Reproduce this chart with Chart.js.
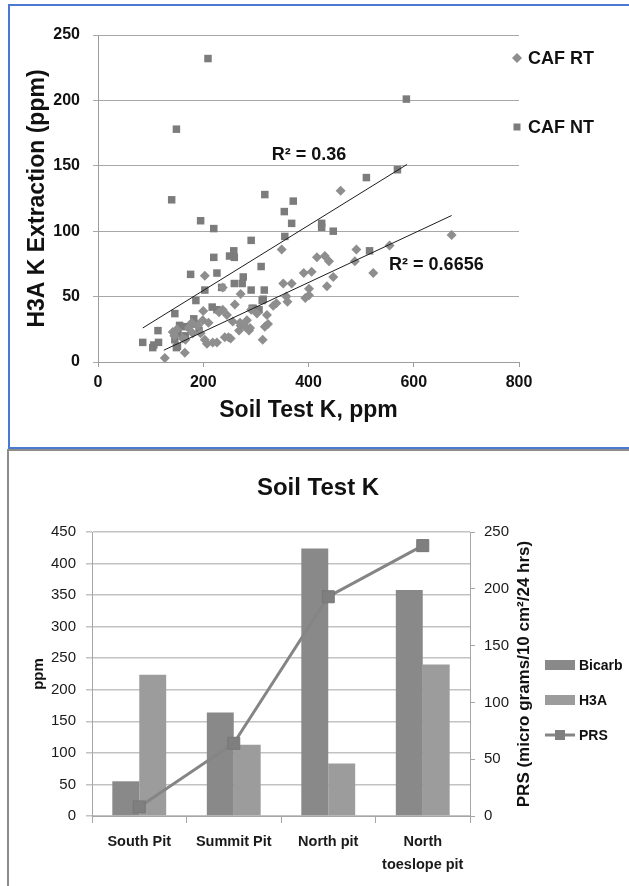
<!DOCTYPE html>
<html lang="en">
<head>
  <meta charset="UTF-8" />
  <title>H3A K Extraction / Soil Test K</title>
  <script src="https://cdn.jsdelivr.net/npm/chart.js"></script>
  <style>
    html, body { margin: 0; padding: 0; background: #fff; }
    body { width: 629px; height: 886px; position: relative; overflow: hidden; }
    canvas { position: absolute; left: 0; }
    #topChart { top: 0; }
    #bottomChart { top: 450px; }
    .edge { position: absolute; }
  </style>
</head>
<body>
  <canvas id="topChart" width="629" height="445"></canvas>
  <canvas id="bottomChart" width="629" height="436"></canvas>

  <!-- panel frames -->
  <div class="edge" style="left:8px;top:4px;width:621px;height:2px;background:#4a79d1"></div>
  <div class="edge" style="left:8px;top:4px;width:2px;height:445px;background:#4a79d1"></div>
  <div class="edge" style="left:8px;top:447px;width:621px;height:2px;background:#4a79d1"></div>
  <div class="edge" style="left:7px;top:449px;width:622px;height:2px;background:#8c8c8c"></div>
  <div class="edge" style="left:7px;top:449px;width:2px;height:437px;background:#8c8c8c"></div>

  <script>
    // ---- top chart data (Soil Test K ppm, H3A K ppm) ----
    const rtPoints = [
      [461,131],[349,86],[491,86],[672,97],[554,89],[416,80],[431,81],[439,77],[488,77],[523,68],
      [391,68],[406,69],[447,65],[352,60],[368,60],[435,58],[401,56],[401,51],[394,49],[358,50],
      [360,46],[339,45],[333,43],[321,36],[323,29],[317,27],[313,17],[271,52],[260,44],[237,57],
      [203,66],[200,39],[237,40],[245,36],[256,31],[271,28],[283,32],[287,24],[268,24],[241,19],
      [252,18],[207,14],[218,15],[199,32],[210,30],[178,30],[172,26],[161,18],[166,17],[142,23],
      [127,3],[165,7],[203,17],[226,15],[302,37],[291,40],[270,30],[289,26],[248,19],[190,28],
      [195,22],[180,22],[150,25],[145,20],[230,38],[280,27]
    ];
    const ntPoints = [
      [209,232],[586,201],[149,178],[140,124],[510,141],[569,147],[317,128],[371,123],[354,115],[195,108],
      [220,102],[368,106],[425,106],[425,103],[447,100],[291,93],[355,96],[258,85],[250,81],[220,80],
      [259,80],[516,85],[310,73],[176,67],[226,68],[276,65],[274,60],[259,60],[203,55],[235,57],
      [291,55],[316,55],[186,47],[314,48],[217,42],[146,37],[293,41],[306,40],[226,40],[114,24],
      [85,15],[104,11],[115,15],[149,11],[146,17],[166,20],[182,33],[186,29],[155,28],[192,24],
      [165,27],[152,22],[106,13],[151,12],[312,47],[295,41]
    ];
    const ntTrend = [[85,26],[587,151]];
    const rtTrend = [[125,9],[672,112]];
    const trendTexts = ['R² = 0.36', 'R² = 0.6656'];

    // ---- bottom chart data ----
    const sites = ['South Pit', 'Summit Pit', 'North pit', ['North', 'toeslope pit']];
    const bicarb = [55, 164, 424, 358];
    const h3a = [224, 113, 83, 240];
    const prs = [8, 64, 193, 238];

    const toXY = arr => arr.map(([x, y]) => ({ x, y }));
    const SANS = '"Liberation Sans", Arial, sans-serif';

    const topDecor = {
      id: 'topDecor',
      afterDatasetsDraw(chart, args, opts) {
        const { ctx, scales: { x, y } } = chart;
        ctx.save();
        ctx.fillStyle = '#111';
        ctx.font = 'bold 18px ' + SANS;
        ctx.textAlign = 'center';
        ctx.textBaseline = 'middle';
        trendTexts.forEach((t, i) => {
          const at = opts.labelAt[i];
          ctx.fillText(t, x.getPixelForValue(at[0]), y.getPixelForValue(at[1]));
        });
        // legend at the right
        ctx.textAlign = 'left';
        const items = chart.data.datasets.filter(d => d.inLegend);
        items.forEach((d, i) => {
          const cy = opts.legendTop + i * opts.legendGap;
          const cx = opts.legendX;
          ctx.fillStyle = d.backgroundColor;
          if (d.pointStyle === 'rectRot') {
            ctx.beginPath();
            ctx.moveTo(cx, cy - 5); ctx.lineTo(cx + 5, cy); ctx.lineTo(cx, cy + 5); ctx.lineTo(cx - 5, cy);
            ctx.closePath(); ctx.fill();
          } else {
            ctx.fillRect(cx - 3.5, cy - 3.5, 7, 7);
          }
          ctx.fillStyle = '#111';
          ctx.fillText(d.label, cx + 11, cy + 1);
        });
        ctx.restore();
      }
    };

    new Chart(document.getElementById('topChart'), {
      type: 'scatter',
      data: {
        datasets: [
          { label: 'NT trend', data: toXY(ntTrend), showLine: true, borderColor: '#1c1c1c', borderWidth: 1, pointRadius: 0, order: 0 },
          { label: 'RT trend', data: toXY(rtTrend), showLine: true, borderColor: '#1c1c1c', borderWidth: 1, pointRadius: 0, order: 0 },
          { label: 'CAF RT', data: toXY(rtPoints), pointStyle: 'rectRot', pointRadius: 5, backgroundColor: '#8e8e8e', borderWidth: 0, order: 1, inLegend: true },
          { label: 'CAF NT', data: toXY(ntPoints), pointStyle: 'rect', pointRadius: 5.3, backgroundColor: '#7c7c7c', borderWidth: 0, order: 1, inLegend: true }
        ]
      },
      options: {
        responsive: false,
        animation: false,
        layout: { padding: { left: 0, top: 35, right: 110, bottom: 13 } },
        plugins: {
          legend: { display: false },
          tooltip: { enabled: false },
          topDecor: { labelAt: [[401, 158], [643, 74]], legendX: 517, legendTop: 58, legendGap: 69 }
        },
        scales: {
          x: {
            type: 'linear', min: 0, max: 800,
            ticks: { stepSize: 200, color: '#111', padding: 6, font: { family: SANS, size: 16, weight: 'bold' } },
            grid: { drawOnChartArea: false, tickLength: 5, color: '#9c9c9c' },
            border: { color: '#9c9c9c' },
            title: { display: true, text: 'Soil Test K, ppm', color: '#111', padding: { top: 0, bottom: 8 },
                     font: { family: SANS, size: 23, weight: 'bold' } },
            afterFit: s => { s.height = 70; }
          },
          y: {
            min: 0, max: 250,
            ticks: { stepSize: 50, color: '#111', padding: 13, font: { family: SANS, size: 16, weight: 'bold' } },
            grid: { color: '#a8a8a8', tickLength: 5 },
            border: { color: '#9c9c9c' },
            title: { display: true, text: 'H3A K Extraction (ppm)', color: '#111', padding: { top: 24, bottom: 0 },
                     font: { family: SANS, size: 23, weight: 'bold' } },
            afterFit: s => { s.width = 98; }
          }
        }
      },
      plugins: [topDecor]
    });

    const bottomDecor = {
      id: 'bottomDecor',
      afterDraw(chart, args, opts) {
        const { ctx, chartArea } = chart;
        ctx.save();
        // right axis title, reading bottom to top
        ctx.fillStyle = '#111';
        ctx.font = 'bold 17px ' + SANS;
        ctx.textAlign = 'center';
        ctx.textBaseline = 'middle';
        ctx.translate(opts.titleX, (chartArea.top + chartArea.bottom) / 2);
        ctx.rotate(-Math.PI / 2);
        ctx.fillText(opts.rightTitle, 0, 0);
        ctx.restore();

        ctx.save();
        ctx.font = 'bold 14px ' + SANS;
        ctx.textBaseline = 'middle';
        chart.data.datasets.forEach((d, i) => {
          const cy = opts.legendTop + i * opts.legendGap;
          const x0 = opts.legendX;
          if (d.type === 'line') {
            ctx.strokeStyle = d.borderColor;
            ctx.lineWidth = 3;
            ctx.beginPath(); ctx.moveTo(x0, cy); ctx.lineTo(x0 + 30, cy); ctx.stroke();
            ctx.fillStyle = d.pointBackgroundColor;
            ctx.fillRect(x0 + 10, cy - 5, 10, 10);
          } else {
            ctx.fillStyle = d.backgroundColor;
            ctx.fillRect(x0, cy - 5, 30, 10);
          }
          ctx.fillStyle = '#111';
          ctx.fillText(d.label, x0 + 34, cy + 1);
        });
        ctx.restore();
      }
    };

    new Chart(document.getElementById('bottomChart'), {
      type: 'bar',
      data: {
        labels: sites,
        datasets: [
          { label: 'Bicarb', data: bicarb, backgroundColor: '#898989', yAxisID: 'y', order: 1,
            categoryPercentage: 0.57, barPercentage: 1.0 },
          { label: 'H3A', data: h3a, backgroundColor: '#9c9c9c', yAxisID: 'y', order: 1,
            categoryPercentage: 0.57, barPercentage: 1.0 },
          { type: 'line', label: 'PRS', data: prs, yAxisID: 'y1', order: 0,
            borderColor: '#858585', borderWidth: 3, pointStyle: 'rect', pointRadius: 8.5,
            pointBackgroundColor: '#7f7f7f', pointBorderColor: '#777', pointBorderWidth: 1 }
        ]
      },
      options: {
        responsive: false,
        animation: false,
        layout: { padding: { left: 7, top: 0, right: 0, bottom: 0 } },
        plugins: {
          legend: { display: false },
          tooltip: { enabled: false },
          title: { display: true, text: 'Soil Test K', color: '#111', padding: { top: 23.6, bottom: 29.6 },
                   font: { family: SANS, size: 24, weight: 'bold' } },
          bottomDecor: { rightTitle: 'PRS (micro grams/10 cm²/24 hrs)', titleX: 524,
                         legendX: 545, legendTop: 215, legendGap: 35 }
        },
        scales: {
          x: {
            grid: { offset: true, drawOnChartArea: false, tickLength: 7, color: '#a6a6a6' },
            border: { color: '#a6a6a6' },
            ticks: { color: '#1a1a1a', padding: 7.5, maxRotation: 0, autoSkip: false,
                     font: { family: SANS, size: 14.5, weight: 'bold', lineHeight: 1.6 } },
            afterFit: s => { s.height = 70; }
          },
          y: {
            position: 'left', min: 0, max: 450,
            ticks: { stepSize: 50, color: '#1a1a1a', padding: 10, font: { family: SANS, size: 15 } },
            grid: { color: '#c2c2c2', lineWidth: 1.5, tickLength: 6 },
            border: { color: '#a6a6a6' },
            title: { display: true, text: 'ppm', color: '#111', padding: { top: 23, bottom: 0 },
                     font: { family: SANS, size: 15, weight: 'bold' } },
            afterFit: s => { s.width = 85; }
          },
          y1: {
            position: 'right', min: 0, max: 250,
            ticks: { stepSize: 50, color: '#1a1a1a', padding: 9, font: { family: SANS, size: 15 } },
            grid: { drawOnChartArea: false, tickLength: 5, color: '#a6a6a6' },
            border: { color: '#a6a6a6' },
            afterFit: s => { s.width = 159; }
          }
        }
      },
      plugins: [bottomDecor]
    });
  </script>
</body>
</html>
